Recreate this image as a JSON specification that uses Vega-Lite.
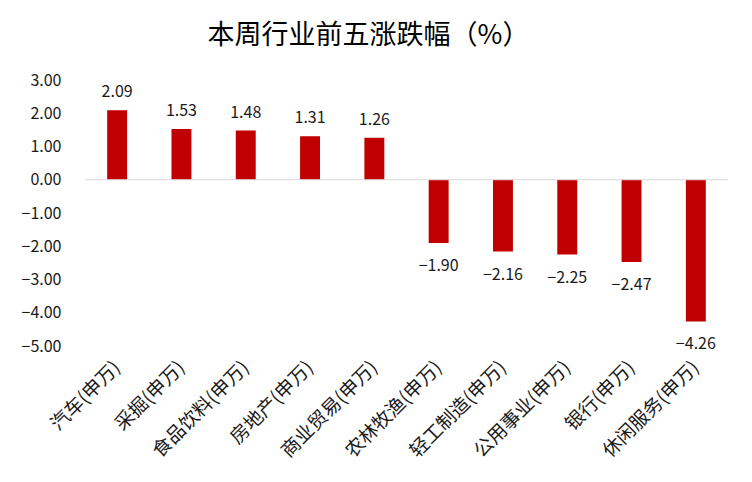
{
  "$schema": "https://vega.github.io/schema/vega-lite/v6.json",
  "width": 643,
  "height": 266,
  "autosize": {"type": "none"},
  "padding": {"left": 85, "top": 80, "right": 24, "bottom": 136},
  "background": "white",
  "config": {
    "view": {"stroke": null},
    "font": "Noto Sans CJK SC",
    "axis": {"labelOverlap": false}
  },
  "title": {
    "text": "本周行业前五涨跌幅（%）",
    "fontSize": 27,
    "fontWeight": "normal",
    "color": "#000000",
    "anchor": "middle",
    "dx": -38,
    "offset": 22,
    "font": "Noto Sans CJK SC"
  },
  "data": {
    "values": [
      {"industry": "汽车(申万)", "value": 2.09},
      {"industry": "采掘(申万)", "value": 1.53},
      {"industry": "食品饮料(申万)", "value": 1.48},
      {"industry": "房地产(申万)", "value": 1.31},
      {"industry": "商业贸易(申万)", "value": 1.26},
      {"industry": "农林牧渔(申万)", "value": -1.90},
      {"industry": "轻工制造(申万)", "value": -2.16},
      {"industry": "公用事业(申万)", "value": -2.25},
      {"industry": "银行(申万)", "value": -2.47},
      {"industry": "休闲服务(申万)", "value": -4.26}
    ]
  },
  "encoding": {
    "x": {
      "field": "industry",
      "type": "nominal",
      "sort": null,
      "scale": {"paddingInner": 0.69, "paddingOuter": 0.345},
      "axis": {
        "title": null,
        "labelAngle": -45,
        "labelAlign": "right",
        "labelBaseline": "middle",
        "labelPadding": 18,
        "labelFontSize": 19,
        "labelColor": "#1a1a1a",
        "labelOverlap": false,
        "domain": false,
        "ticks": false,
        "labelFont": "Noto Sans CJK SC"
      }
    },
    "y": {
      "field": "value",
      "type": "quantitative",
      "scale": {"domain": [-5, 3], "nice": false, "zero": true},
      "axis": {
        "title": null,
        "values": [-5, -4, -3, -2, -1, 0, 1, 2, 3],
        "format": ".2f",
        "grid": false,
        "domain": false,
        "ticks": false,
        "labelOverlap": false,
        "labelPadding": 24,
        "labelFontSize": 16,
        "labelColor": "#1a1a1a",
        "labelFont": "Noto Sans CJK SC"
      }
    }
  },
  "layer": [
    {
      "mark": {"type": "bar", "color": "#C00000"}
    },
    {
      "mark": {"type": "rule", "color": "#d9d9d9", "strokeWidth": 1},
      "data": {"values": [{"value": 0}]},
      "encoding": {
        "x": null
      }
    },
    {
      "transform": [{"filter": "datum.value >= 0"}],
      "mark": {"type": "text", "baseline": "bottom", "dy": -10, "fontSize": 16, "color": "#1a1a1a"},
      "encoding": {
        "text": {"field": "value", "type": "quantitative", "format": ".2f"}
      }
    },
    {
      "transform": [{"filter": "datum.value < 0"}],
      "mark": {"type": "text", "baseline": "top", "dy": 15, "fontSize": 16, "color": "#1a1a1a"},
      "encoding": {
        "text": {"field": "value", "type": "quantitative", "format": ".2f"}
      }
    }
  ]
}
